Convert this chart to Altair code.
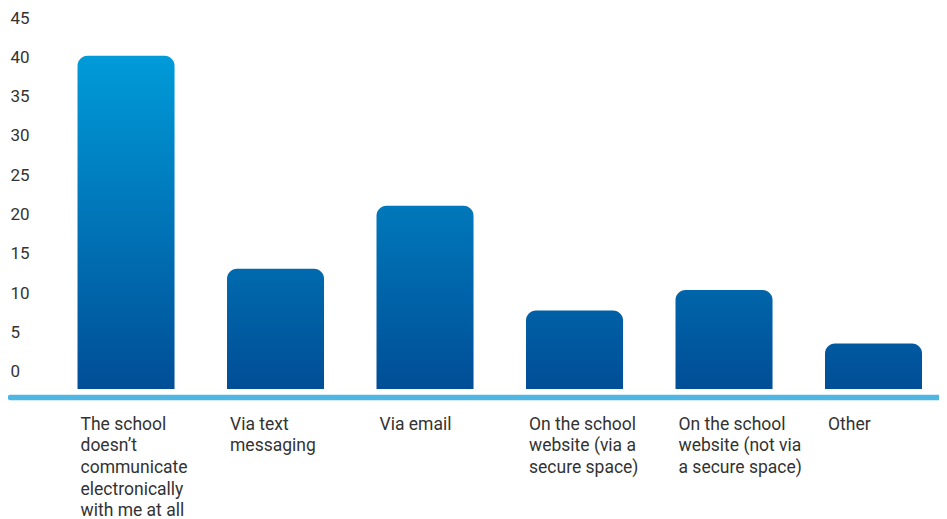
import altair as alt
import pandas as pd

categories = [
    "The school\ndoesn\u2019t\ncommunicate\nelectronically\nwith me at all",
    "Via text\nmessaging",
    "Via email",
    "On the school\nwebsite (via a\nsecure space)",
    "On the school\nwebsite (not via\na secure space)",
    "Other",
]
values = [40.2, 13.1, 21.1, 7.8, 10.4, 3.6]
y_ticks = [0, 5, 10, 15, 20, 25, 30, 35, 40, 45]

BASE = -2.2          # bars start slightly below the 0 label, as in the source graphic
TOP_VAL = 45
C_TOP = (0x00, 0x9B, 0xD9)
C_BOT = (0x00, 0x4E, 0x96)
FONT = "Roboto"
TXT = "#333333"

df = pd.DataFrame({"cat": categories, "val": values})


def grad_for(v):
    f = (v - BASE) / (max(values) - BASE)
    c = tuple(round(b + (t - b) * f) for t, b in zip(C_TOP, C_BOT))
    top = "#%02x%02x%02x" % c
    bot = "#%02x%02x%02x" % C_BOT
    return alt.Gradient(
        gradient="linear",
        stops=[alt.GradientStop(color=top, offset=0), alt.GradientStop(color=bot, offset=1)],
        x1=0, x2=0, y1=0, y2=1,
    )


x_enc = alt.X(
    "cat:N",
    sort=categories,
    scale=alt.Scale(domain=categories, paddingInner=0.351, paddingOuter=0.2826, align=0.799),
    axis=alt.Axis(
        title=None,
        labelAngle=0,
        labelAlign="left",
        labelBaseline="top",
        labelOffset=-45.5,
        labelPadding=18,
        labelExpr="split(datum.label, '\\n')",
        labelLineHeight=21.7,
        labelFont=FONT,
        labelFontSize=17.5,
        labelColor=TXT,
        ticks=False,
        domain=True,
        domainColor="#4db6e3",
        domainWidth=5.5,
        domainCap="round",
        offset=8,
        labelLimit=0,
    ),
)
y_enc = alt.Y(
    "val:Q",
    scale=alt.Scale(domain=[BASE, TOP_VAL], nice=False, zero=False),
    axis=alt.Axis(
        title=None,
        values=y_ticks,
        grid=False,
        domain=False,
        ticks=False,
        labelAlign="left",
        labelPadding=0,
        labelFont=FONT,
        labelFontSize=17,
        labelColor=TXT,
    ),
)

layers = []
for c, v in zip(categories, values):
    base = alt.Chart(df).transform_filter(alt.datum.cat == c)
    layer = base.mark_bar(
        color=grad_for(v), cornerRadiusTopLeft=10, cornerRadiusTopRight=10
    ).encode(
        x=x_enc,
        y=y_enc,
        y2=alt.Y2(datum=BASE),
    )
    layers.append(layer)

chart = alt.layer(*layers).properties(
    width=929,
    height=371,
    background="white",
    autosize=alt.AutoSizeParams(type="none"),
    padding={"left": 2, "top": 10, "right": 0, "bottom": 130},
).configure_view(strokeWidth=0, stroke="transparent")

chart.save("out.html", embed_options={"renderer": "svg", "actions": False})
